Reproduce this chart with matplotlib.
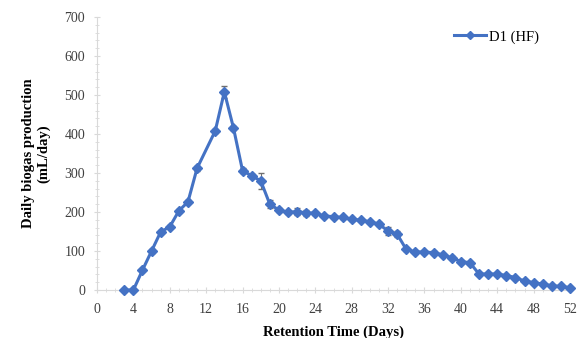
import matplotlib
matplotlib.use("Agg")
import matplotlib.pyplot as plt
from matplotlib.ticker import MultipleLocator

days = [3, 4, 5, 6, 7, 8, 9, 10, 11, 13, 14, 15, 16, 17, 18, 19, 20, 21, 22, 23,
        24, 25, 26, 27, 28, 29, 30, 31, 32, 33, 34, 35, 36, 37, 38, 39, 40, 41,
        42, 43, 44, 45, 46, 47, 48, 49, 50, 51, 52]
biogas = [0, 0, 51, 100, 149, 162, 203, 226, 312, 408, 508, 416, 306, 293, 280,
          220, 205, 199, 201, 198, 197, 190, 188, 186, 181, 179, 175, 169, 151,
          143, 104, 98, 97, 96, 90, 83, 73, 70, 41, 41, 41, 37, 32, 23, 19, 15,
          11, 9, 6]
errors = [0, 0, 3, 4, 4, 4, 4, 4, 6, 5, 15, 5, 6, 5, 20, 10, 5, 4, 8, 8,
          4, 3, 3, 3, 3, 3, 3, 6, 10, 8, 4, 3, 3, 3, 3, 3, 3, 3,
          3, 3, 2, 2, 2, 2, 2, 2, 2, 2, 2]
series_name = "D1 (HF)"
x_ticks = list(range(0, 53, 4))
y_ticks = list(range(0, 701, 100))

plt.rcParams['font.family'] = ['Liberation Serif', 'DejaVu Serif']

fig = plt.figure(figsize=(5.84, 3.38), dpi=100)
ax = fig.add_axes([97/584, 1-290/338, (570-97)/584, (290-17)/338])

blue = '#4472C4'
ax.errorbar(days, biogas, yerr=errors, fmt='none', ecolor='#6f6f6f',
            elinewidth=0.8, capsize=2, zorder=2)
line, = ax.plot(days, biogas, color=blue, marker='D', markersize=5.5,
                linewidth=2.2, label=series_name, zorder=3, clip_on=False)

ax.set_xlim(0, 52)
ax.set_ylim(0, 700)
ax.set_xticks(x_ticks)
ax.set_yticks(y_ticks)
ax.xaxis.set_minor_locator(MultipleLocator(1))
ax.yaxis.set_minor_locator(MultipleLocator(20))

for s in ['top', 'right']:
    ax.spines[s].set_visible(False)
for s in ['left', 'bottom']:
    ax.spines[s].set_color('#d9d9d9')
    ax.spines[s].set_linewidth(0.8)

ax.tick_params(axis='both', which='both', color='#d9d9d9', direction='inout')
ax.tick_params(axis='both', which='major', length=5, labelsize=10, labelcolor='#404040')
ax.tick_params(axis='both', which='minor', length=3)
ax.tick_params(axis='x', pad=7)
ax.tick_params(axis='y', pad=6)

ax.set_xlabel('Retention Time (Days)', fontsize=10.5, fontweight='bold', labelpad=7)
ax.set_ylabel('Daily biogas production\n(mL/day)', fontsize=10.5, fontweight='bold', labelpad=10)

leg = ax.legend(handles=[line], loc='upper right', bbox_to_anchor=(0.962, 1.0),
                frameon=False, fontsize=10.5, handlelength=2.2, handletextpad=0.2,
                markerscale=0.8)

fig.savefig('out.png', dpi=100)
